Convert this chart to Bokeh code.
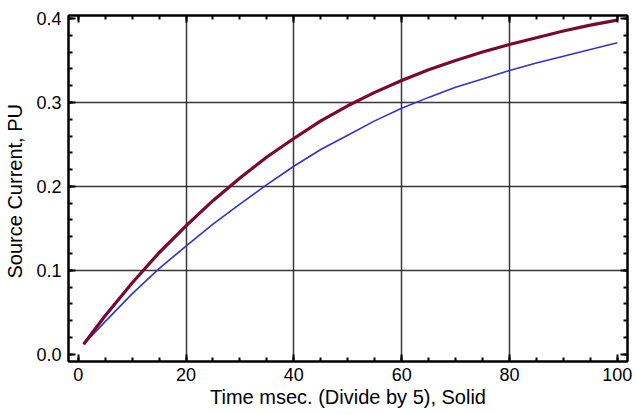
from bokeh.plotting import figure
from bokeh.models import FixedTicker, SingleIntervalTicker, LinearAxis, Range1d, PrintfTickFormatter
from bokeh.embed import file_html
from bokeh.resources import INLINE

t = [1, 5, 10, 15, 20, 25, 30, 35, 40, 45, 50, 55, 60, 65, 70, 75, 80, 85, 90, 95, 100]
red_curve = [0.012, 0.046, 0.085, 0.121, 0.153, 0.183, 0.210, 0.235, 0.257, 0.278, 0.296,
             0.312, 0.326, 0.339, 0.350, 0.360, 0.369, 0.377, 0.385, 0.392, 0.398]
blue_curve = [0.012, 0.039, 0.072, 0.102, 0.129, 0.155, 0.179, 0.202, 0.224, 0.244, 0.261,
              0.278, 0.293, 0.306, 0.318, 0.328, 0.338, 0.347, 0.355, 0.363, 0.371]

x_grid = [20, 40, 60, 80]
y_grid = [0.1, 0.2, 0.3]
x_step, x_minor_count = 20, 4
y_step, y_minor_count = 0.1, 5

X0, X1 = -1.8, 101.9
Y0, Y1 = -0.0085, 0.4035
FONT = "Liberation Sans"

p = figure(frame_width=559, frame_height=346, output_backend="svg", toolbar_location=None,
           x_range=Range1d(X0, X1), y_range=Range1d(Y0, Y1),
           x_axis_location=None, y_axis_location=None,
           min_border_left=68, min_border_right=10, min_border_top=15, min_border_bottom=53)
p.outline_line_color = "black"
p.outline_line_width = 2
p.background_fill_color = "white"
p.border_fill_color = "white"

def make_axis(step, minor, labels, label_text=None):
    ax = LinearAxis(ticker=SingleIntervalTicker(interval=step, num_minor_ticks=minor))
    ax.axis_line_width = 2
    ax.axis_line_color = "black"
    ax.major_tick_in = 7
    ax.major_tick_out = 0
    ax.minor_tick_in = 4
    ax.minor_tick_out = 0
    ax.major_tick_line_width = 2
    ax.minor_tick_line_width = 2
    ax.major_tick_line_color = "black"
    ax.minor_tick_line_color = "black"
    ax.major_label_text_font = FONT
    ax.major_label_text_font_size = "18px"
    ax.major_label_text_color = "black"
    ax.axis_label_text_font = FONT
    ax.axis_label_text_font_size = "20px"
    ax.axis_label_text_font_style = "normal"
    ax.axis_label_text_color = "black"
    if not labels:
        ax.major_label_text_alpha = 0
        ax.major_label_text_font_size = "1px"
        ax.major_label_standoff = 0
    if label_text:
        ax.axis_label = label_text
    return ax

bx = make_axis(x_step, x_minor_count, True, "Time msec. (Divide by 5), Solid")
bx.major_label_standoff = 6
bx.axis_label_standoff = 2
ly = make_axis(y_step, y_minor_count, True, "Source  Current, PU")
ly.formatter = PrintfTickFormatter(format="%.1f")
ly.major_label_standoff = 7
ly.axis_label_standoff = 7
tx = make_axis(x_step, x_minor_count, False)
ry = make_axis(y_step, y_minor_count, False)

p.add_layout(bx, "below")
p.add_layout(ly, "left")
p.add_layout(tx, "above")
p.add_layout(ry, "right")

p.xgrid.ticker = FixedTicker(ticks=x_grid)
p.ygrid.ticker = FixedTicker(ticks=y_grid)
for g in (p.xgrid, p.ygrid):
    g.grid_line_color = "#222222"
    g.grid_line_width = 1.5
    g.grid_line_alpha = 0.9

p.line(t, blue_curve, line_color="#3333cc", line_width=1.6, line_join="round")
p.line(t, red_curve, line_color="#7a0830", line_width=3.2, line_join="round")

open("out.html", "w").write(file_html(p, INLINE))
